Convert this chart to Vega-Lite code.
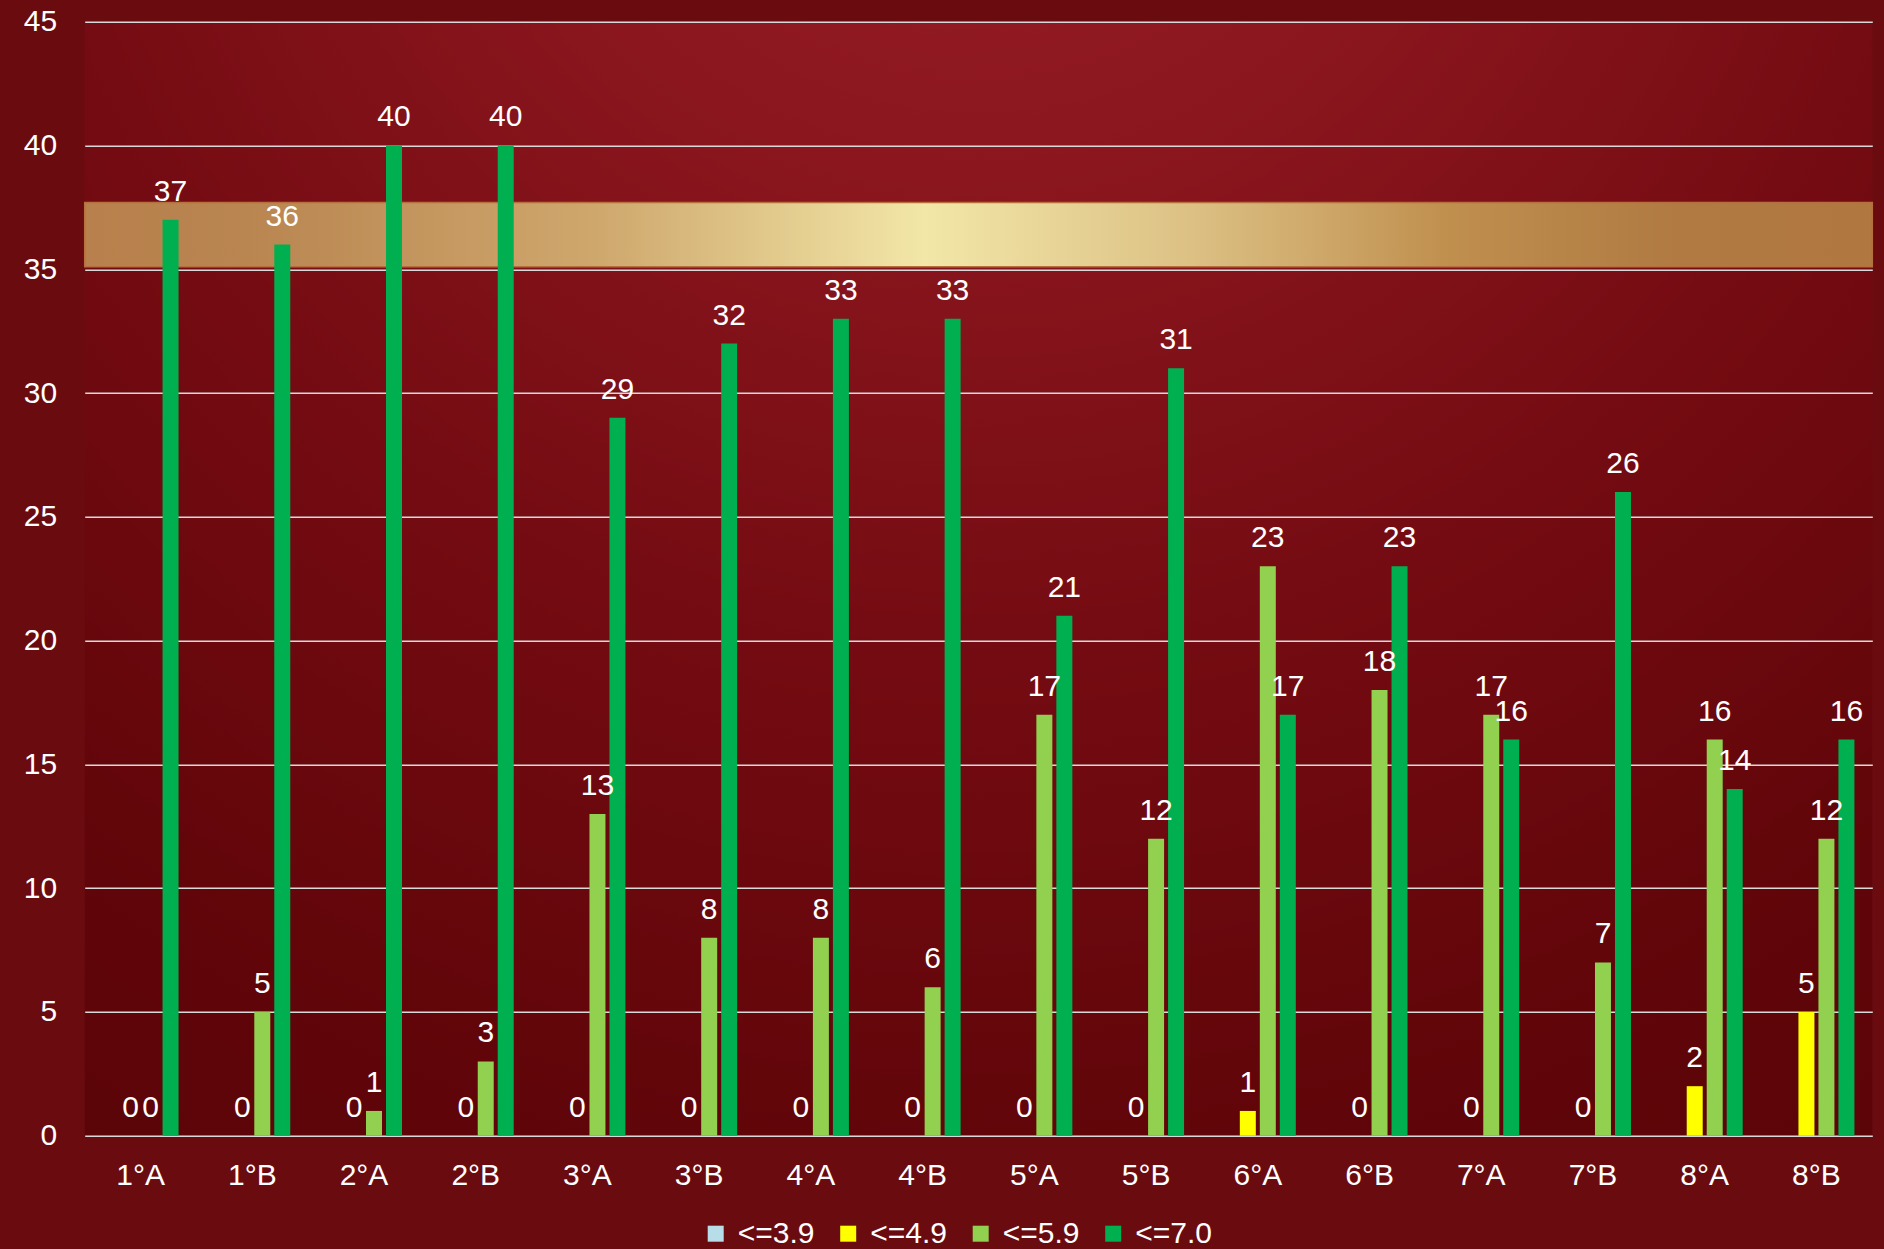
{
  "$schema": "https://vega.github.io/schema/vega-lite/v6.json",
  "width": 1787.6,
  "height": 1114,
  "autosize": {"type": "none"},
  "padding": {"left": 84.7, "top": 21.7, "right": 11.7, "bottom": 113.3},
  "background": "#6A0B10",
  "config": {
    "font": "Liberation Sans",
    "view": {
      "stroke": null,
      "fill": {
        "gradient": "radial",
        "x1": 0.5, "y1": 0, "r1": 0,
        "x2": 0.5, "y2": 0, "r2": 1.1,
        "stops": [
          {"offset": 0, "color": "#9D222A"},
          {"offset": 0.25, "color": "#8B161E"},
          {"offset": 0.5, "color": "#740B12"},
          {"offset": 0.75, "color": "#600509"},
          {"offset": 1, "color": "#560407"}
        ]
      }
    },
    "axis": {
      "labelColor": "#FFFFFF",
      "labelFont": "Liberation Sans",
      "labelFontSize": 30,
      "gridColor": "#D9D9D9",
      "gridWidth": 1.5,
      "domain": false,
      "ticks": false,
      "tickSize": 0,
      "title": null
    },
    "legend": {
      "labelColor": "#FFFFFF",
      "labelFont": "Liberation Sans",
      "labelFontSize": 30,
      "symbolType": "square",
      "symbolSize": 256,
      "symbolStrokeWidth": 0,
      "labelOffset": 7,
      "columnPadding": 18.5
    }
  },
  "datasets": {
    "grades": [
      {"class": "1°A", "grade": "<=4.9", "count": 0},
      {"class": "1°A", "grade": "<=5.9", "count": 0},
      {"class": "1°A", "grade": "<=7.0", "count": 37},
      {"class": "1°B", "grade": "<=4.9", "count": 0},
      {"class": "1°B", "grade": "<=5.9", "count": 5},
      {"class": "1°B", "grade": "<=7.0", "count": 36},
      {"class": "2°A", "grade": "<=4.9", "count": 0},
      {"class": "2°A", "grade": "<=5.9", "count": 1},
      {"class": "2°A", "grade": "<=7.0", "count": 40},
      {"class": "2°B", "grade": "<=4.9", "count": 0},
      {"class": "2°B", "grade": "<=5.9", "count": 3},
      {"class": "2°B", "grade": "<=7.0", "count": 40},
      {"class": "3°A", "grade": "<=4.9", "count": 0},
      {"class": "3°A", "grade": "<=5.9", "count": 13},
      {"class": "3°A", "grade": "<=7.0", "count": 29},
      {"class": "3°B", "grade": "<=4.9", "count": 0},
      {"class": "3°B", "grade": "<=5.9", "count": 8},
      {"class": "3°B", "grade": "<=7.0", "count": 32},
      {"class": "4°A", "grade": "<=4.9", "count": 0},
      {"class": "4°A", "grade": "<=5.9", "count": 8},
      {"class": "4°A", "grade": "<=7.0", "count": 33},
      {"class": "4°B", "grade": "<=4.9", "count": 0},
      {"class": "4°B", "grade": "<=5.9", "count": 6},
      {"class": "4°B", "grade": "<=7.0", "count": 33},
      {"class": "5°A", "grade": "<=4.9", "count": 0},
      {"class": "5°A", "grade": "<=5.9", "count": 17},
      {"class": "5°A", "grade": "<=7.0", "count": 21},
      {"class": "5°B", "grade": "<=4.9", "count": 0},
      {"class": "5°B", "grade": "<=5.9", "count": 12},
      {"class": "5°B", "grade": "<=7.0", "count": 31},
      {"class": "6°A", "grade": "<=4.9", "count": 1},
      {"class": "6°A", "grade": "<=5.9", "count": 23},
      {"class": "6°A", "grade": "<=7.0", "count": 17},
      {"class": "6°B", "grade": "<=4.9", "count": 0},
      {"class": "6°B", "grade": "<=5.9", "count": 18},
      {"class": "6°B", "grade": "<=7.0", "count": 23},
      {"class": "7°A", "grade": "<=4.9", "count": 0},
      {"class": "7°A", "grade": "<=5.9", "count": 17},
      {"class": "7°A", "grade": "<=7.0", "count": 16},
      {"class": "7°B", "grade": "<=4.9", "count": 0},
      {"class": "7°B", "grade": "<=5.9", "count": 7},
      {"class": "7°B", "grade": "<=7.0", "count": 26},
      {"class": "8°A", "grade": "<=4.9", "count": 2},
      {"class": "8°A", "grade": "<=5.9", "count": 16},
      {"class": "8°A", "grade": "<=7.0", "count": 14},
      {"class": "8°B", "grade": "<=4.9", "count": 5},
      {"class": "8°B", "grade": "<=5.9", "count": 12},
      {"class": "8°B", "grade": "<=7.0", "count": 16}
    ],
    "decor": [{"band": "gold"}]
  },
  "layer": [
    {
      "data": {"name": "decor"},
      "mark": {
        "type": "rect",
        "stroke": "#B5703E",
        "strokeWidth": 1.5,
        "fill": {
          "gradient": "linear",
          "x1": 0, "y1": 0, "x2": 1, "y2": 0,
          "stops": [
            {"offset": 0, "color": "#B8804C"},
            {"offset": 0.09, "color": "#B98550"},
            {"offset": 0.29, "color": "#CFA86E"},
            {"offset": 0.47, "color": "#F2E7A7"},
            {"offset": 0.62, "color": "#DCC084"},
            {"offset": 0.76, "color": "#C0904F"},
            {"offset": 0.89, "color": "#B07A42"},
            {"offset": 1, "color": "#B07840"}
          ]
        }
      },
      "encoding": {
        "y": {"datum": 35.1, "type": "quantitative", "scale": {"domain": [0, 45], "nice": false}},
        "y2": {"datum": 37.7}
      }
    },
    {
      "data": {"name": "grades"},
      "encoding": {
        "x": {
          "field": "class",
          "type": "nominal",
          "sort": null,
          "scale": {"paddingInner": 0.32, "paddingOuter": 0.16},
          "axis": {"labelAngle": 0, "labelPadding": 25, "grid": false}
        },
        "xOffset": {
          "field": "grade",
          "type": "nominal",
          "scale": {"domain": ["<=3.9", "<=4.9", "<=5.9", "<=7.0"], "paddingInner": 0.2, "paddingOuter": 0}
        },
        "y": {
          "field": "count",
          "type": "quantitative",
          "scale": {"domain": [0, 45], "nice": false},
          "axis": {"values": [0, 5, 10, 15, 20, 25, 30, 35, 40, 45], "grid": true, "labelPadding": 28}
        }
      },
      "layer": [
        {
          "mark": {"type": "bar"},
          "encoding": {
            "color": {
              "field": "grade",
              "type": "nominal",
              "scale": {
                "domain": ["<=3.9", "<=4.9", "<=5.9", "<=7.0"],
                "range": ["#B7DEE8", "#FFFF00", "#92D050", "#00B050"]
              },
              "legend": {
                "orient": "none",
                "direction": "horizontal",
                "title": null,
                "legendX": 616,
                "legendY": 1197
              }
            }
          }
        },
        {
          "mark": {"type": "text", "color": "#FFFFFF", "fontSize": 30, "baseline": "alphabetic", "dy": -19, "font": "Liberation Sans"},
          "encoding": {
            "text": {"field": "count", "type": "quantitative"}
          }
        }
      ]
    }
  ]
}
